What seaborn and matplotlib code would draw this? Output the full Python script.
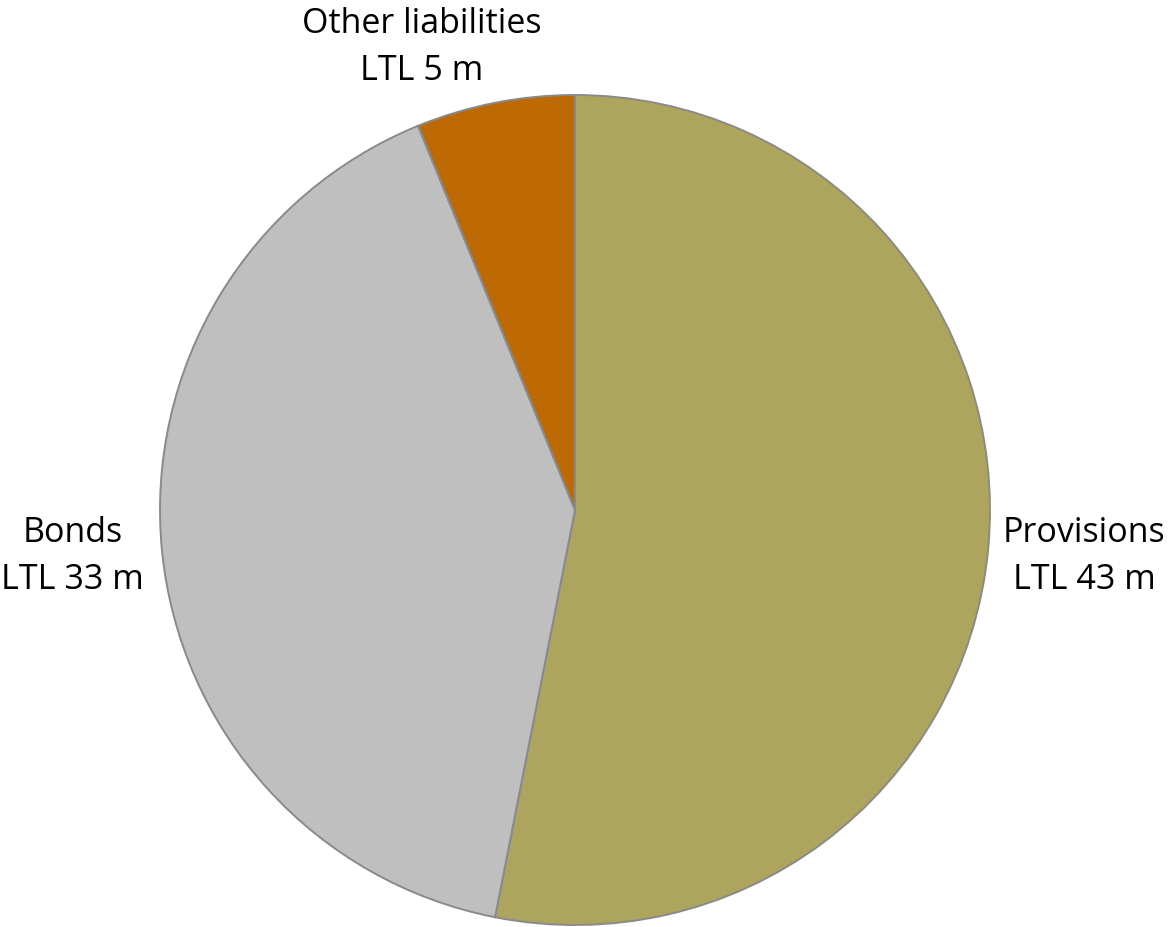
import matplotlib
matplotlib.use("Agg")
import matplotlib.pyplot as plt
import seaborn as sns

sns.set_theme(style="white")
plt.rcParams['font.family'] = ['Open Sans', 'DejaVu Sans']

categories = ["Provisions", "Bonds", "Other liabilities"]
values = [43, 33, 5]
value_labels = ["LTL 43 m", "LTL 33 m", "LTL 5 m"]
colors = ["#ADA55E", "#BFBFBF", "#BD6A05"]

# label layout (data coords, pie radius = 1)
label_pos = [(1.227, -0.11), (-1.21, -0.11), (-0.369, 1.118)]

fig = plt.figure(figsize=(11.69, 9.28), dpi=100)
ax = fig.add_axes([160/1169, 2/928, 830/1169, 830/928])
wedges, _ = ax.pie(values, colors=colors, startangle=90, counterclock=False,
                   radius=1.0,
                   wedgeprops=dict(edgecolor="#8A8A8A", linewidth=1.4))
ax.set_xlim(-1, 1)
ax.set_ylim(-1, 1)
ax.set_aspect("equal")
ax.axis("off")

for cat, vl, (x, y) in zip(categories, value_labels, label_pos):
    ax.text(x, y, f"{cat}\n{vl}", ha="center", va="center", fontsize=24.5,
            linespacing=1.5, color="#000000", clip_on=False)

fig.savefig("out.png", dpi=100)
